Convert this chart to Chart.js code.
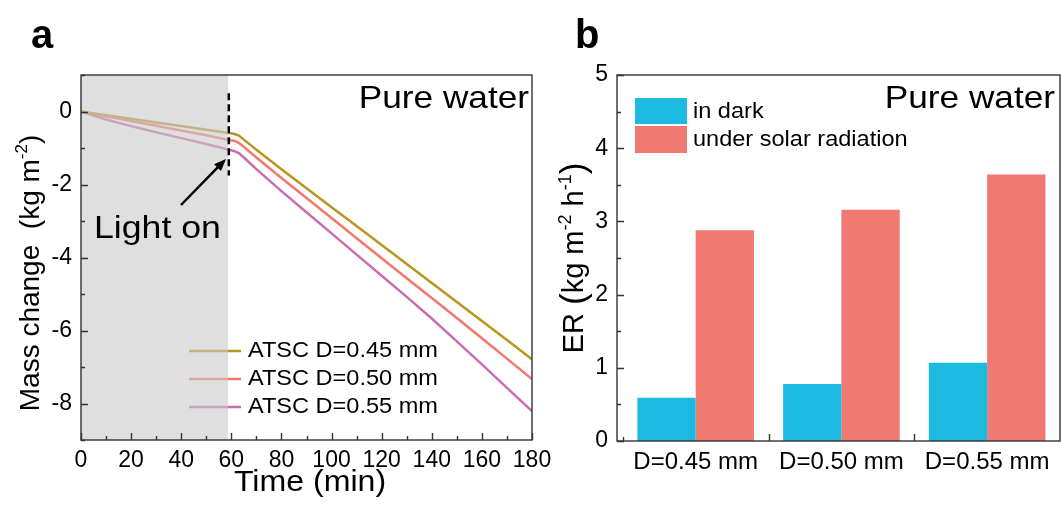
<!DOCTYPE html>
<html>
<head>
<meta charset="utf-8">
<script src="https://cdn.jsdelivr.net/npm/chart.js@4.4.1/dist/chart.umd.min.js"></script>
<style>
html, body { margin: 0; padding: 0; background: #fff; }
#wrap { position: relative; width: 1061px; height: 506px; overflow: hidden; }
#boxA { position: absolute; left: 0; top: 0; width: 560px; height: 506px; }
#boxB { position: absolute; left: 540px; top: 0; width: 521px; height: 506px; }
</style>
</head>
<body>
<div id="wrap">
  <div id="boxA"><canvas id="chartA"></canvas></div>
  <div id="boxB"><canvas id="chartB"></canvas></div>
</div>
<script>
// --- DATA (panel a) ---
const timeMin = [0, 10, 20, 30, 40, 50, 59, 61, 63, 65, 70, 80, 90, 100, 110, 120, 130, 140, 150, 160, 170, 180];
const massD045 = [0, -0.10, -0.20, -0.30, -0.40, -0.50, -0.59, -0.61, -0.66, -0.77, -1.05, -1.58, -2.10, -2.62, -3.14, -3.66, -4.18, -4.70, -5.22, -5.74, -6.26, -6.79];
const massD050 = [0, -0.13, -0.26, -0.39, -0.52, -0.65, -0.78, -0.80, -0.86, -0.97, -1.26, -1.82, -2.37, -2.92, -3.47, -4.02, -4.57, -5.11, -5.66, -6.21, -6.77, -7.33];
const massD055 = [0, -0.22, -0.40, -0.57, -0.73, -0.89, -1.05, -1.08, -1.14, -1.26, -1.58, -2.18, -2.76, -3.34, -3.92, -4.50, -5.08, -5.67, -6.30, -6.93, -7.57, -8.21];
const seriesNames = ['ATSC D=0.45 mm', 'ATSC D=0.50 mm', 'ATSC D=0.55 mm'];
const timeTicks = [0, 20, 40, 60, 80, 100, 120, 140, 160, 180];
const massTicks = [0, -2, -4, -6, -8];
const lightOnMin = 58.7;

// --- DATA (panel b) ---
const groupLabels = ['D=0.45 mm', 'D=0.50 mm', 'D=0.55 mm'];
const erDark = [0.59, 0.78, 1.07];
const erSolar = [2.88, 3.16, 3.64];
const erTicks = [0, 1, 2, 3, 4, 5];
const barNames = ['in dark', 'under solar radiation'];

const FONT = '"Liberation Sans", Arial, sans-serif';
const lineColors = ['#B8961E', '#F4776C', '#C96CB2'];
const barColors = ['#1CB9E1', '#F07972'];

// small drawing helpers
function txt(ctx, s, x, y, size, opts) {
    opts = opts || {};
    ctx.save();
    ctx.font = (opts.bold ? 'bold ' : '') + size + 'px ' + FONT;
    ctx.fillStyle = '#000';
    ctx.textAlign = opts.align || 'left';
    ctx.textBaseline = opts.baseline || 'alphabetic';
    ctx.translate(x, y);
    ctx.scale(opts.sx || 1, 1);
    ctx.fillText(s, 0, 0);
    ctx.restore();
}

// rotated title with superscripts: parts = [[text, 'n'|'s'|'b'], ...]
function vtitle(ctx, parts, x, cy, size) {
    const fontOf = k => (k === 's' ? Math.round(size * 0.62) : k === 'b' ? Math.round(size * 1.2) : size) + 'px ' + FONT;
    ctx.save();
    ctx.fillStyle = '#000';
    ctx.textBaseline = 'alphabetic';
    let total = 0;
    const widths = parts.map(p => { ctx.font = fontOf(p[1]); const w = ctx.measureText(p[0]).width; total += w; return w; });
    ctx.translate(x, cy);
    ctx.rotate(-Math.PI / 2);
    let cx = -total / 2;
    parts.forEach((p, i) => {
        ctx.font = fontOf(p[1]);
        ctx.fillText(p[0], cx, p[1] === 's' ? -size * 0.42 : (p[1] === 'b' ? size * 0.08 : 0));
        cx += widths[i];
    });
    ctx.restore();
}

function frameAndTicks(chart, xt, yt) {
    const { ctx, chartArea: a, scales } = chart;
    ctx.save();
    ctx.strokeStyle = '#333';
    ctx.lineWidth = 1.4;
    ctx.beginPath();
    xt.forEach(([v, len]) => {
        const px = Math.round(scales.x.getPixelForValue(v)) + 0.5;
        ctx.moveTo(px, a.bottom); ctx.lineTo(px, a.bottom - len);
    });
    yt.forEach(([v, len]) => {
        const py = Math.round(scales.y.getPixelForValue(v)) + 0.5;
        ctx.moveTo(a.left, py); ctx.lineTo(a.left + len, py);
    });
    ctx.stroke();
    ctx.strokeRect(a.left, a.top, a.right - a.left, a.bottom - a.top);
    ctx.restore();
}

// --- PANEL A ---
const aXMarks = [];
for (let v = 0; v <= 180; v += 10) aXMarks.push([v, v % 20 === 0 ? 7 : 4]);
const aYMarks = [];
for (let v = -9; v <= 1; v += 1) aYMarks.push([v, v % 2 === 0 ? 7 : 4]);

const panelA = {
    id: 'panelA',
    afterDatasetsDraw(chart) {
        const { ctx, chartArea: a, scales: { x, y } } = chart;
        // legend lines (under the grey band, like the original)
        const lx0 = 189, lx1 = 241, rows = [351, 379, 407];
        ctx.save();
        ctx.lineWidth = 2.5;
        lineColors.forEach((c, i) => {
            ctx.strokeStyle = c;
            ctx.beginPath(); ctx.moveTo(lx0, rows[i]); ctx.lineTo(lx1, rows[i]); ctx.stroke();
        });
        // dark period band
        const xe = x.getPixelForValue(lightOnMin);
        ctx.fillStyle = 'rgba(202,202,202,0.6)';
        ctx.fillRect(a.left, a.top, xe - a.left, a.bottom - a.top);
        // light-on dashed marker
        ctx.strokeStyle = '#000';
        ctx.lineWidth = 2.5;
        ctx.setLineDash([7, 4]);
        const xd = x.getPixelForValue(59);
        ctx.beginPath(); ctx.moveTo(xd, y.getPixelForValue(0.5)); ctx.lineTo(xd, y.getPixelForValue(-1.75)); ctx.stroke();
        ctx.setLineDash([]);
        // arrow
        const tail = [181, 205], tip = [226, 159];
        const ang = Math.atan2(tip[1] - tail[1], tip[0] - tail[0]);
        ctx.lineWidth = 2.5;
        ctx.beginPath(); ctx.moveTo(tail[0], tail[1]);
        ctx.lineTo(tip[0] - 8 * Math.cos(ang), tip[1] - 8 * Math.sin(ang)); ctx.stroke();
        ctx.fillStyle = '#000';
        ctx.beginPath();
        ctx.moveTo(tip[0], tip[1]);
        ctx.lineTo(tip[0] - 13 * Math.cos(ang - 0.38), tip[1] - 13 * Math.sin(ang - 0.38));
        ctx.lineTo(tip[0] - 13 * Math.cos(ang + 0.38), tip[1] - 13 * Math.sin(ang + 0.38));
        ctx.closePath(); ctx.fill();
        ctx.restore();
        seriesNames.forEach((n, i) => txt(ctx, n, 248, rows[i], 22, { baseline: 'middle', sx: 1.07 }));
        txt(ctx, 'Light on', 94, 238, 31, { sx: 1.15 });
        txt(ctx, 'Pure water', 529, 108, 32, { align: 'right', sx: 1.1 });
    },
    afterDraw(chart) {
        const { ctx } = chart;
        frameAndTicks(chart, aXMarks, aYMarks);
        txt(ctx, 'a', 31, 48, 40, { bold: true });
        txt(ctx, 'Time (min)', 310, 491, 30, { align: 'center', sx: 1.07 });
        vtitle(ctx, [['Mass change  (kg m', 'n'], ['-2', 's'], [')', 'n']], 39, 273, 28);
    }
};

new Chart(document.getElementById('chartA'), {
    type: 'line',
    data: {
        datasets: [massD045, massD050, massD055].map((vals, i) => ({
            label: seriesNames[i],
            data: timeMin.map((t, j) => ({ x: t, y: vals[j] })),
            borderColor: lineColors[i],
            borderWidth: 2.5,
            pointRadius: 0,
            tension: 0,
            fill: false
        }))
    },
    options: {
        responsive: true,
        maintainAspectRatio: false,
        animation: false,
        layout: { padding: { top: 75, right: 28, left: 0, bottom: 0 } },
        plugins: { legend: { display: false }, tooltip: { enabled: false } },
        scales: {
            x: {
                type: 'linear', min: 0, max: 180,
                afterBuildTicks: s => { s.ticks = timeTicks.map(v => ({ value: v })); },
                afterFit: s => { s.height = 66; },
                ticks: { color: '#000', font: { family: FONT, size: 23 }, padding: 7, maxRotation: 0, autoSkip: false },
                grid: { display: false, drawTicks: false },
                border: { display: false }
            },
            y: {
                type: 'linear', min: -9, max: 1,
                afterBuildTicks: s => { s.ticks = massTicks.map(v => ({ value: v })); },
                afterFit: s => { s.width = 81; },
                ticks: { color: '#000', font: { family: FONT, size: 23 }, padding: 9 },
                grid: { display: false, drawTicks: false },
                border: { display: false }
            }
        }
    },
    plugins: [panelA]
});

// --- PANEL B ---
const bXMarks = [[-0.5, 4], [0.5, 7], [1.5, 7]];
const bYMarks = [];
for (let v = 0; v <= 5; v += 0.5) bYMarks.push([v, Number.isInteger(v) ? 7 : 4]);

const panelB = {
    id: 'panelB',
    afterDraw(chart) {
        const { ctx } = chart;
        frameAndTicks(chart, bXMarks, bYMarks);
        // legend boxes (canvas B starts at page x=540)
        const boxes = [[95, 98, 52, 26], [95, 126, 52, 27]];
        ctx.save();
        boxes.forEach((b, i) => {
            ctx.fillStyle = barColors[i];
            ctx.fillRect(b[0], b[1], b[2], b[3]);
        });
        ctx.restore();
        txt(ctx, barNames[0], 153, 112, 22, { baseline: 'middle', sx: 1.07 });
        txt(ctx, barNames[1], 153, 140, 22, { baseline: 'middle', sx: 1.07 });
        txt(ctx, 'Pure water', 515, 108, 32, { align: 'right', sx: 1.1 });
        txt(ctx, 'b', 35, 48, 40, { bold: true });
        vtitle(ctx, [['ER ', 'n'], ['(', 'b'], ['kg m', 'n'], ['-2', 's'], [' h', 'n'], ['-1', 's'], [')', 'b']], 43, 258, 29);
    }
};

new Chart(document.getElementById('chartB'), {
    type: 'bar',
    data: {
        datasets: [erDark, erSolar].map((vals, i) => ({
            label: barNames[i],
            data: vals.map((v, j) => ({ x: j, y: v })),
            backgroundColor: barColors[i],
            borderWidth: 0,
            categoryPercentage: 0.8,
            barPercentage: 1.0
        }))
    },
    options: {
        responsive: true,
        maintainAspectRatio: false,
        animation: false,
        layout: { padding: { top: 75, right: 1, left: 0, bottom: 0 } },
        plugins: { legend: { display: false }, tooltip: { enabled: false } },
        scales: {
            x: {
                type: 'linear', min: -0.54, max: 2.5, offset: false,
                afterBuildTicks: s => { s.ticks = groupLabels.map((g, i) => ({ value: i })); },
                afterFit: s => { s.height = 65; },
                ticks: { color: '#000', font: { family: FONT, size: 24 }, padding: 7, maxRotation: 0, autoSkip: false,
                         callback: v => groupLabels[v] },
                grid: { display: false, drawTicks: false },
                border: { display: false }
            },
            y: {
                type: 'linear', min: 0, max: 5,
                afterBuildTicks: s => { s.ticks = erTicks.map(v => ({ value: v })); },
                afterFit: s => { s.width = 77; },
                ticks: { color: '#000', font: { family: FONT, size: 23 }, padding: 9 },
                grid: { display: false, drawTicks: false },
                border: { display: false }
            }
        }
    },
    plugins: [panelB]
});
</script>
</body>
</html>
